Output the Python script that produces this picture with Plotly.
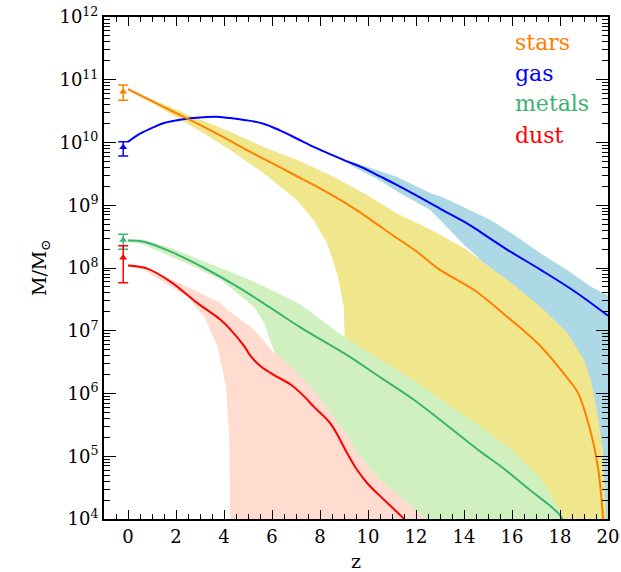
import numpy as np
import plotly.graph_objects as go

# ---------------- data (log10 of M/Msun) ----------------
stars_z = [0, 1, 2, 3, 4, 5, 6, 7, 8, 9, 10, 11, 12, 13, 14.42, 15.81, 17.2, 18.32, 18.75, 19.29, 19.58, 19.79, 19.85]
stars_log = [10.85, 10.66, 10.47, 10.28, 10.08, 9.87, 9.67, 9.47, 9.27, 9.05, 8.80, 8.53, 8.27, 7.97, 7.65, 7.22,
             6.75, 6.24, 6.01, 5.37, 4.83, 4.03, 3.5]
stars_up_z = [0, 1, 2.34, 4.26, 5.65, 7.05, 8.44, 9.83, 11.22, 12.61, 14.0, 15.81, 17.2, 18.32, 19.01, 19.29, 19.58,
              19.79, 19.92, 19.95]
stars_up_log = [10.87, 10.69, 10.47, 10.17, 9.93, 9.72, 9.48, 9.19, 8.87, 8.61, 8.32, 7.81, 7.38, 6.96, 6.53, 6.21,
                5.63, 5.10, 4.0, 3.0]
stars_lo_z = [0, 1, 2.34, 3.3, 4.26, 5.65, 7.05, 7.74, 8.3, 8.58, 8.78, 8.99, 9.03, 9.06, 19.95]
stars_lo_log = [10.83, 10.63, 10.33, 10.11, 9.88, 9.51, 9.08, 8.76, 8.39, 8.07, 7.81, 7.38, 6.8, 3.0, 3.0]

gas_z = [0, 0.5, 1.1, 1.5, 2.3, 3.0, 3.6, 4.26, 4.85, 5.65, 6.35, 7.05, 7.74, 8.44, 9.13, 9.83, 10.5, 11.22, 12.61,
         13.03, 14.0, 14.42, 15.81, 17.2, 18.6, 20]
gas_log = [10.01, 10.14, 10.25, 10.31, 10.37, 10.40, 10.41, 10.39, 10.36, 10.30, 10.19, 10.06, 9.93, 9.81, 9.70,
           9.59, 9.46, 9.32, 9.03, 8.94, 8.74, 8.64, 8.29, 7.97, 7.63, 7.24]
gas_up_z = [8.44, 8.85, 9.83, 11.22, 12.61, 13.03, 14.0, 15.12, 16.2, 17.2, 18.3, 19.29, 20]
gas_up_log = [9.82, 9.75, 9.63, 9.45, 9.19, 9.14, 8.97, 8.76, 8.50, 8.23, 7.97, 7.70, 7.56]
gas_lo_z = [8.44, 9.0, 9.55, 10.4, 11.22, 12.61, 14.0, 14.56, 15.5, 16.5, 17.5, 18.5, 19.5, 20]
gas_lo_log = [9.80, 9.70, 9.58, 9.42, 9.22, 8.92, 8.37, 8.18, 7.7, 7.0, 6.2, 5.4, 4.5, 3.5]

metals_z = [0, 0.67, 1.78, 3.18, 4.57, 5.96, 7.2, 9.13, 10.5, 11.91, 13.3, 14.7, 15.53, 16.92, 17.62, 18.04, 18.3]
metals_log = [8.44, 8.42, 8.26, 8.00, 7.70, 7.36, 7.05, 6.61, 6.26, 5.90, 5.49, 5.07, 4.84, 4.41, 4.20, 4.04, 3.8]
metals_up_z = [0, 0.67, 1.78, 3.18, 5.26, 7.2, 9.0, 11.9, 14.7, 16.0, 17.2, 18.2, 18.35]
metals_up_log = [8.46, 8.45, 8.32, 8.10, 7.78, 7.42, 6.90, 6.21, 5.47, 5.10, 4.65, 4.0, 3.5]
metals_lo_z = [0, 0.67, 2.48, 3.87, 5.26, 5.7, 5.96, 6.1, 6.3]
metals_lo_log = [8.42, 8.37, 8.07, 7.81, 7.38, 7.1, 6.80, 6.67, 3.0]

dust_z = [0, 0.81, 1.78, 2.9, 3.87, 4.29, 4.85, 5.12, 5.54, 6.1, 6.79, 7.35, 7.74, 8.44, 9.13, 9.55, 9.97, 10.52,
          11.5, 11.7]
dust_log = [8.04, 7.99, 7.78, 7.44, 7.17, 7.01, 6.75, 6.59, 6.43, 6.29, 6.14, 5.95, 5.79, 5.52, 5.05, 4.78, 4.57,
            4.36, 4.0, 3.9]
dust_up_z = [0, 0.67, 2.48, 3.87, 4.15, 5.26, 6.1, 6.35, 7.74, 8.44, 9.13, 9.69, 10.52, 11.5, 12.47, 12.7]
dust_up_log = [8.06, 8.02, 7.70, 7.44, 7.33, 7.01, 6.64, 6.59, 6.06, 5.68, 5.33, 4.99, 4.62, 4.30, 4.0, 3.8]
dust_lo_z = [0, 0.67, 2.48, 3.18, 3.73, 4.08, 4.22, 4.26, 4.28, 12.7]
dust_lo_log = [8.02, 7.97, 7.54, 7.22, 6.75, 6.11, 5.31, 4.0, 3.0, 3.0]

# observed values at z~0 (log10 of value, upper end, lower end)
obs_z = -0.2
obs_names = ["stars", "gas", "metals", "dust"]
obs_log = [10.81, 9.923, 8.446, 8.164]
obs_hi_log = [10.916, 10.01, 8.537, 8.355]
obs_lo_log = [10.673, 9.785, 8.298, 7.766]

y_tickvals_exp = [4, 5, 6, 7, 8, 9, 10, 11, 12]
x_tickvals = [0, 2, 4, 6, 8, 10, 12, 14, 16, 18, 20]

# ---------------- styles ----------------
line_col = {"stars": "#ff8000", "gas": "#0000ff", "metals": "#3cb371", "dust": "#ff0000"}
band_col = {"stars": "#f0e68c", "gas": "#add8e6", "metals": "#d0f0c0", "dust": "#ffdbd0"}
FONT = "DejaVu Serif"

def p(a):
    return list(10 ** np.array(a, dtype=float))

fig = go.Figure()

def band(zu, yu, zl, yl, col):
    fig.add_trace(go.Scatter(x=list(zu) + list(zl)[::-1], y=p(yu) + p(yl)[::-1], mode="lines",
                             fill="toself", fillcolor=col, line=dict(width=0, color=col),
                             hoverinfo="skip", showlegend=False))

band(gas_up_z, gas_up_log, gas_lo_z, gas_lo_log, band_col["gas"])
band(stars_up_z, stars_up_log, stars_lo_z, stars_lo_log, band_col["stars"])
band(metals_up_z, metals_up_log, metals_lo_z, metals_lo_log, band_col["metals"])
band(dust_up_z, dust_up_log, dust_lo_z, dust_lo_log, band_col["dust"])

for name, zz, yy in [("gas", gas_z, gas_log), ("stars", stars_z, stars_log),
                     ("metals", metals_z, metals_log), ("dust", dust_z, dust_log)]:
    fig.add_trace(go.Scatter(x=zz, y=p(yy), mode="lines",
                             line=dict(color=line_col[name], width=2, shape="spline", smoothing=1.0),
                             showlegend=False))

for i, name in enumerate(obs_names):
    c = 10 ** obs_log[i]
    fig.add_trace(go.Scatter(
        x=[obs_z], y=[c], mode="markers",
        marker=dict(symbol="triangle-up", size=7, color=line_col[name]),
        error_y=dict(type="data", array=[10 ** obs_hi_log[i] - c], arrayminus=[c - 10 ** obs_lo_log[i]],
                     color=line_col[name], thickness=1.5, width=5),
        showlegend=False))

# legend-like labels
for i, name in enumerate(obs_names):
    fig.add_annotation(x=0.8115, y=[0.950, 0.888, 0.827, 0.763][i], xref="paper", yref="paper",
                       text=name, showarrow=False, xanchor="left", yanchor="middle",
                       font=dict(family=FONT, size=22, color=line_col[name]))

fig.add_annotation(x=0, y=0.5, xref="paper", yref="paper", xshift=-64, text="M/M<sub>⊙</sub>",
                   textangle=-90, showarrow=False, xanchor="center", yanchor="middle",
                   font=dict(family=FONT, size=19, color="black"))
fig.add_annotation(x=0.5, y=0, xref="paper", yref="paper", yshift=-42, text="z",
                   showarrow=False, xanchor="center", yanchor="middle",
                   font=dict(family=FONT, size=19, color="black"))

fig.update_xaxes(range=[-1, 20], tickmode="array", tickvals=x_tickvals,
                 ticktext=[str(v) for v in x_tickvals],
                 ticks="inside", ticklen=9, tickwidth=1.3, tickcolor="black",
                 minor=dict(dtick=0.5, tick0=0, ticks="inside", ticklen=5, tickwidth=1.3, tickcolor="black"),
                 showline=True, linewidth=2, linecolor="black", mirror="ticks",
                 showgrid=False, zeroline=False, automargin=False,
                 tickfont=dict(family=FONT, size=18, color="black"))
fig.update_yaxes(type="log", range=[4, 12], tickmode="array",
                 tickvals=[10 ** e for e in y_tickvals_exp],
                 ticktext=["10<sup>%d</sup>" % e for e in y_tickvals_exp],
                 ticks="inside", ticklen=12, tickwidth=1.3, tickcolor="black",
                 minor=dict(dtick="D1", ticks="inside", ticklen=6, tickwidth=1.3, tickcolor="black"),
                 showline=True, linewidth=2, linecolor="black", mirror="ticks",
                 showgrid=False, zeroline=False, automargin=False,
                 tickfont=dict(family=FONT, size=18, color="black"))

fig.update_layout(width=621, height=572, margin=dict(l=104, r=13, t=17, b=53),
                  plot_bgcolor="white", paper_bgcolor="white", showlegend=False)

# remove the browser's default 8px page margin so the figure fills the window exactly
fig.write_html("out.html", config={"displayModeBar": False},
               post_script="document.body.style.margin='0';document.body.style.overflow='hidden';")
